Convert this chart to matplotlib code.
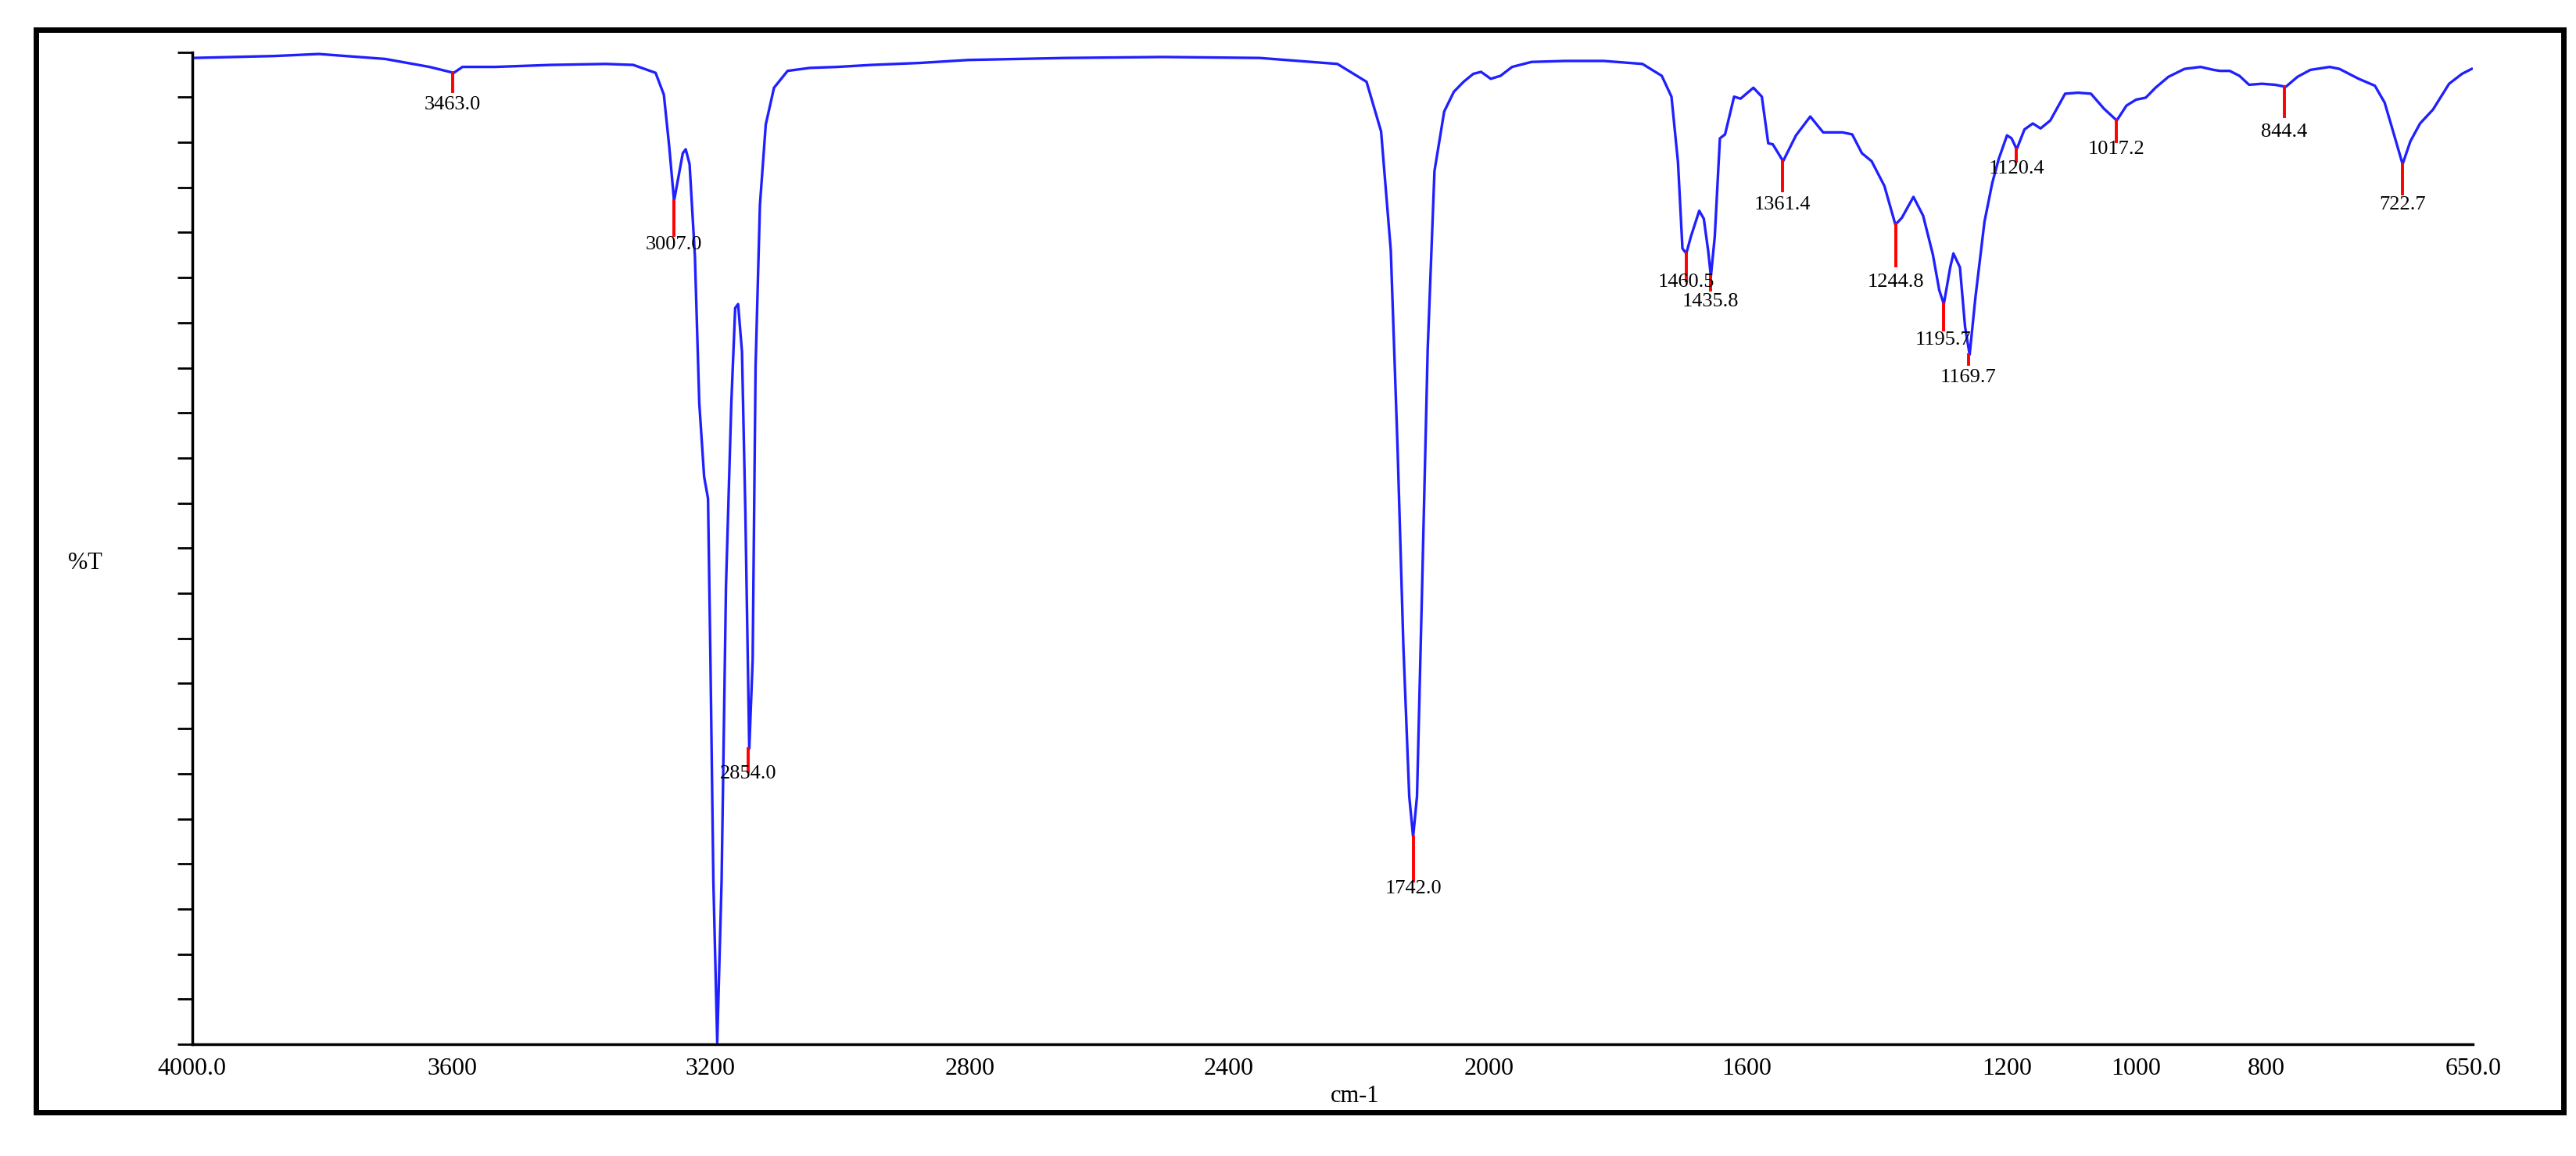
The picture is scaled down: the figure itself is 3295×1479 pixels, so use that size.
import numpy as np
import matplotlib
matplotlib.use("Agg")
import matplotlib.pyplot as plt

# spectrum trace (wavenumber cm-1, %T)
wavenumber = [4000, 3830, 3739, 3602, 3511, 3461, 3443, 3375, 3261, 3148, 3091, 3045, 3028, 3017,
              3007, 2989, 2983, 2975, 2964, 2955, 2945, 2937, 2932, 2926, 2918, 2909, 2900, 2889,
              2881, 2875, 2867, 2860, 2852, 2845, 2839, 2830, 2818, 2801, 2773, 2727, 2670, 2600,
              2500, 2400, 2200, 2000, 1900, 1820, 1790, 1775, 1765, 1758, 1752, 1746, 1742, 1738,
              1733, 1727, 1720, 1710, 1700, 1690, 1680, 1672, 1662, 1652, 1640, 1620, 1585.5,
              1545.6, 1505.7, 1485.8, 1475.8, 1469.1, 1464.5, 1460.5, 1455.8, 1447.2, 1442.5,
              1437.9, 1435.2, 1431.2, 1425.9, 1420.6, 1411.3, 1404.6, 1391.4, 1382.7, 1376.1,
              1371.4, 1360.8, 1347.5, 1332.8, 1319.5, 1299.6, 1289.6, 1279.6, 1269.6, 1256.4,
              1245.1, 1238.4, 1226.5, 1216.5, 1206.5, 1199.9, 1195.2, 1188.6, 1185.3, 1178.6,
              1173.3, 1168.6, 1162.6, 1153.3, 1145.3, 1138.7, 1130.1, 1125.4, 1120.1, 1112.1,
              1103.5, 1095.5, 1085.5, 1070.2, 1056.9, 1043.6, 1030.3, 1017.0, 1007.0, 997.1,
              987.1, 977.1, 963.8, 947.2, 930.6, 917.3, 910.6, 900.6, 890.6, 880.7, 867.4, 854.1,
              842.8, 830.8, 817.5, 797.6, 787.6, 767.7, 751.0, 741.0, 731.1, 722.5, 714.5, 704.5,
              691.2, 674.6, 661.3, 651.3]
transmittance = [99.4, 99.6, 99.8, 99.3, 98.5, 97.9, 98.5, 98.5, 98.7, 98.8, 98.7, 97.9, 95.7, 90.5,
                 85.0, 89.8, 90.2, 88.7, 79.4, 64.6, 57.2, 55.0, 38.7, 16.5, 0.2, 16.5, 46.1, 64.6,
                 74.2, 74.6, 69.8, 53.5, 29.8, 38.7, 68.3, 84.6, 92.7, 96.4, 98.1, 98.4, 98.5, 98.7,
                 98.9, 99.2, 99.4, 99.5, 99.4, 98.8, 97.0, 92.0, 80.0, 60.0, 40.0, 25.0, 20.9, 25.0,
                 45.0, 70.0, 88.0, 94.0, 96.0, 97.0, 97.8, 98.0, 97.3, 97.6, 98.5, 99.0, 99.1,
                 99.1, 98.8, 97.6, 95.5, 88.9, 80.2, 79.7, 81.4, 84.0, 83.2,
                 79.9, 77.4, 81.4, 91.3, 91.7, 95.5, 95.3, 96.4, 95.5, 90.8,
                 90.7, 89.0, 91.6, 93.5, 91.9, 91.9, 91.7, 89.8, 89.0, 86.5,
                 82.6, 83.3, 85.4, 83.5, 79.6, 76.0, 74.6, 78.3, 79.7, 78.3,
                 72.3, 69.5, 75.3, 82.9, 86.8, 89.2, 91.6, 91.3, 90.2, 92.2,
                 92.8, 92.3, 93.1, 95.8, 95.9, 95.8, 94.3, 93.1, 94.6, 95.2,
                 95.4, 96.4, 97.5, 98.3, 98.5, 98.2, 98.1, 98.1, 97.6, 96.7, 96.8, 96.7,
                 96.5, 97.5, 98.2, 98.5, 98.3, 97.3, 96.6, 94.9, 91.6, 88.7, 91.0, 92.8,
                 94.2, 96.8, 97.8, 98.3]

# peak picks
peak_pos = [3463.0, 3007.0, 2854.0, 1742.0, 1460.5, 1435.8, 1361.4, 1244.8, 1195.7, 1169.7,
            1120.4, 1017.2, 844.4, 722.7]
peak_T = [97.9, 85.0, 29.8, 20.9, 79.7, 77.4, 89.0, 82.6, 74.6, 69.5, 90.2, 93.1, 96.5, 88.7]
peak_line_end = [96.0, 81.5, 27.5, 16.5, 77.0, 76.0, 86.0, 78.5, 72.0, 68.5, 89.0, 91.0, 93.5, 85.7]
peak_label_T = [94.7, 80.6, 27.3, 15.7, 76.8, 74.8, 84.6, 76.8, 71.0, 67.2, 88.2, 90.2, 91.9, 84.6]

# x tick labels and where they sit on the (instrument) axis
tick_labels = ["4000.0", "3600", "3200", "2800", "2400", "2000", "1600", "1200", "1000", "800", "650.0"]
tick_at = [4000, 3464, 2932, 2397, 1932, 1664, 1398, 1130, 997, 863, 650]


def fwd(w):
    w = np.asarray(w, dtype=float)
    return np.where(w >= 2000, w, 2 * w - 2000)


def inv(u):
    u = np.asarray(u, dtype=float)
    return np.where(u >= 2000, u, (u + 2000) / 2)


serif = ["Liberation Serif", "DejaVu Serif"]
fig = plt.figure(figsize=(32.95, 14.79), dpi=100)
ax = fig.add_axes([0.0746, 0.0966, 0.8854, 0.8584])
ax.set_xscale("function", functions=(fwd, inv))
ax.plot(wavenumber, transmittance, color="#2020ff", lw=2.4)
for p, t, e, lt in zip(peak_pos, peak_T, peak_line_end, peak_label_T):
    ax.plot([p, p], [t, e], color="red", lw=2.8)
    ax.text(p, lt, f"{p:.1f}", ha="center", va="center", fontsize=19, family=serif)

ax.set_xlim(4000, 650)
ax.set_ylim(0, 100)
ax.set_xticks(tick_at)
ax.set_xticklabels(tick_labels, family=serif, fontsize=23)
ax.set_yticks(np.linspace(0, 100, 23))
ax.set_yticklabels([])
ax.tick_params(axis="y", length=14, width=2)
ax.tick_params(axis="x", length=0, pad=12)
ax.xaxis.set_minor_locator(matplotlib.ticker.NullLocator())
for s in ["top", "right"]:
    ax.spines[s].set_visible(False)
for s in ["left", "bottom"]:
    ax.spines[s].set_linewidth(2.5)

fig.text(0.033, 0.513, "%T", fontsize=22, family=serif, ha="center", va="center")
fig.text(0.526, 0.052, "cm-1", fontsize=22, family=serif, ha="center", va="center")
fig.patches.append(plt.Rectangle((0.014, 0.038), 0.981, 0.936, transform=fig.transFigure,
                                 fill=False, lw=5, ec="black"))
fig.savefig("out.png", dpi=100)
